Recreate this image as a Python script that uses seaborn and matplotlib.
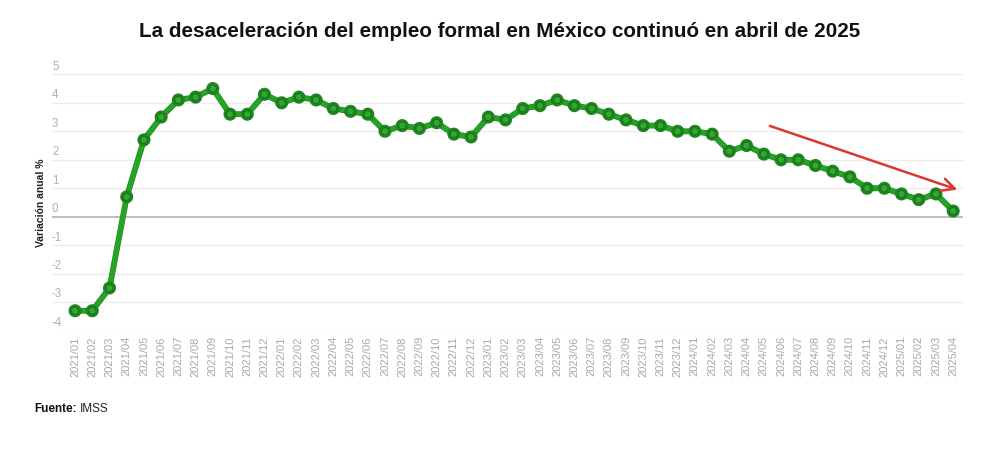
import numpy as np
import pandas as pd
import seaborn as sns
from matplotlib import pyplot as plt
import matplotlib.patheffects as pe

sns.set_style("white")
plt.rcParams["font.family"] = ["Liberation Sans", "DejaVu Sans"]

# Data: annual change in formal employment (%)
months = [
    "2021/01", "2021/02", "2021/03", "2021/04", "2021/05", "2021/06",
    "2021/07", "2021/08", "2021/09", "2021/10", "2021/11", "2021/12",
    "2022/01", "2022/02", "2022/03", "2022/04", "2022/05", "2022/06",
    "2022/07", "2022/08", "2022/09", "2022/10", "2022/11", "2022/12",
    "2023/01", "2023/02", "2023/03", "2023/04", "2023/05", "2023/06",
    "2023/07", "2023/08", "2023/09", "2023/10", "2023/11", "2023/12",
    "2024/01", "2024/02", "2024/03", "2024/04", "2024/05", "2024/06",
    "2024/07", "2024/08", "2024/09", "2024/10", "2024/11", "2024/12",
    "2025/01", "2025/02", "2025/03", "2025/04",
]
variation = [
    -3.3, -3.3, -2.5, 0.7, 2.7, 3.5, 4.1, 4.2, 4.5, 3.6, 3.6, 4.3,
    4.0, 4.2, 4.1, 3.8, 3.7, 3.6, 3.0, 3.2, 3.1, 3.3, 2.9, 2.8,
    3.5, 3.4, 3.8, 3.9, 4.1, 3.9, 3.8, 3.6, 3.4, 3.2, 3.2, 3.0,
    3.0, 2.9, 2.3, 2.5, 2.2, 2.0, 2.0, 1.8, 1.6, 1.4, 1.0, 1.0,
    0.8, 0.6, 0.8, 0.2,
]
y_ticks = [-4, -3, -2, -1, 0, 1, 2, 3, 4, 5]

# trend arrow (start / end in data units: month index, %)
arrow_start = (40.2, 3.22)
arrow_end = (51.4, 0.92)

df = pd.DataFrame({"month": months, "variation": variation})
df["pos"] = np.arange(len(df))

fig = plt.figure(figsize=(10, 4.68), dpi=100)
ax = fig.add_axes([0.052, 0.2934, 0.911, 0.5478])

# Gridlines drawn by hand so the labels can sit above them
for t in y_ticks:
    ax.axhline(t, color="#bdbdbd" if t == 0 else "#ebebeb",
               lw=1.4 if t == 0 else 0.9, zorder=1)
    ax.text(0.0, t + 0.06, str(t), transform=ax.get_yaxis_transform(),
            ha="left", va="bottom", fontsize=8.3, color="#b0b0b0")

sns.lineplot(data=df, x="pos", y="variation", ax=ax, color="#24a524",
             lw=3.4, marker="o", markersize=5.2, markerfacecolor="#2cab2c",
             markeredgecolor="#236b23", markeredgewidth=0.75, zorder=3,
             path_effects=[pe.Stroke(linewidth=4.2, foreground="#1f851f"), pe.Normal()])

ax.annotate("", xy=arrow_end, xytext=arrow_start,
            arrowprops=dict(arrowstyle="->,head_length=0.9,head_width=0.45",
                            color="#e03535", lw=1.8), zorder=4)

ax.set_xlim(-1.34, 51.57)
ax.set_ylim(-4, 5)
ax.set_yticks([])
ax.set_xticks(df["pos"])
ax.set_xticklabels(df["month"], rotation=90, fontsize=8, color="#a8a8a8")
ax.tick_params(axis="x", length=0, pad=4)
for s in ax.spines.values():
    s.set_visible(False)
ax.set_xlabel("")
ax.set_ylabel("")

fig.text(0.041, 0.567, "Variación anual %", rotation=90, ha="center", va="center",
         fontsize=7.5, fontweight="bold", color="#222222")

fig.text(0.5, 0.932, "La desaceleración del empleo formal en México continuó en abril de 2025",
         ha="center", va="center", fontsize=14.9, fontweight="bold", color="#111111")

# Source line: bold label followed by plain text
src_label = fig.text(0.034, 0.126, "Fuente:", ha="left", va="center", fontsize=8.5,
                     fontweight="bold", color="#111111")
fig.canvas.draw()
bb = src_label.get_window_extent().transformed(fig.transFigure.inverted())
fig.text(bb.x1 + 0.003, 0.126, "IMSS", ha="left", va="center", fontsize=8.5, color="#222222")

fig.savefig("out.png", dpi=100, facecolor="white")
